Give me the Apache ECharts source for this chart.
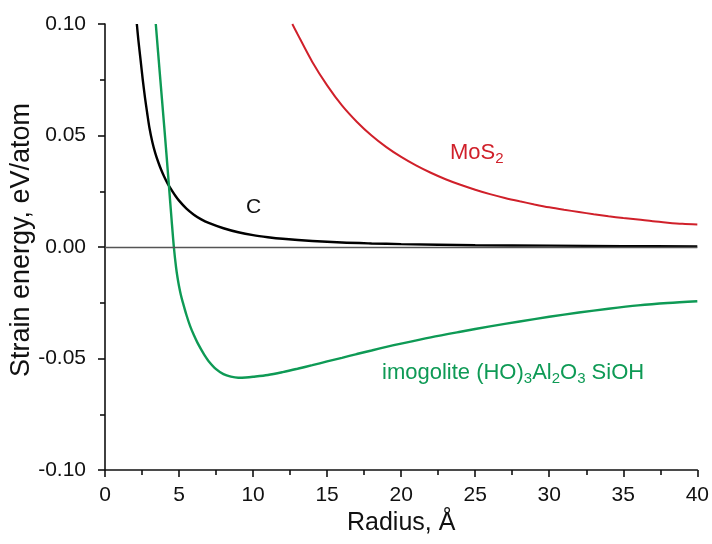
<!DOCTYPE html>
<html>
<head>
<meta charset="utf-8">
<script src="https://cdn.jsdelivr.net/npm/echarts@6/dist/echarts.min.js"></script>
<style>
  html, body { margin: 0; padding: 0; background: #fff; }
  #main { width: 712px; height: 544px; }
</style>
</head>
<body>
<div id="main"></div>
<script>
// radius (Å) and strain energy (eV/atom)
var rC = [2.15, 2.25, 2.4, 2.55, 2.7, 2.85, 3.0, 3.2, 3.4, 3.6, 3.8, 4.0, 4.25, 4.5, 4.75, 5.0, 5.5, 6.0, 6.5, 7, 8, 9, 10, 11, 12, 14, 16, 18, 20, 25, 30, 35, 40];
var eC = [0.100, 0.093, 0.084, 0.075, 0.067, 0.060, 0.0535, 0.047, 0.042, 0.038, 0.0345, 0.0315, 0.0282, 0.0255, 0.0230, 0.0208, 0.0172, 0.0145, 0.0124, 0.0108, 0.0084, 0.0066, 0.0053, 0.0044, 0.0037, 0.0027, 0.0020, 0.0016, 0.0013, 0.0008, 0.0006, 0.0004, 0.0003];

var rMoS2 = [12.65, 13, 14, 15, 16, 17, 18, 19, 20, 21, 22, 23, 24, 25, 26, 27, 28, 29, 30, 31, 32, 33, 34, 35, 36, 37, 38, 39, 40];
var eMoS2 = [0.100, 0.0955, 0.0830, 0.0725, 0.0635, 0.0562, 0.0500, 0.0448, 0.0404, 0.0366, 0.0333, 0.0304, 0.0279, 0.0257, 0.0237, 0.0220, 0.0205, 0.0191, 0.0178, 0.0167, 0.0157, 0.0147, 0.0138, 0.0130, 0.0123, 0.0115, 0.0109, 0.0104, 0.0101];

var rImo = [3.43, 3.7, 4.0, 4.3, 4.5, 4.65, 4.8, 4.9, 5.0, 5.12, 5.25, 5.5, 5.75, 6.0, 6.25, 6.5, 6.75, 7.0, 7.5, 8, 8.5, 9, 9.5, 10, 11, 12, 13, 14, 15, 16, 17, 18, 19, 20, 22, 24, 26, 28, 30, 32, 34, 36, 38, 40];
var eImo = [0.100, 0.078, 0.054, 0.029, 0.012, 0.0, -0.0092, -0.0138, -0.0176, -0.0214, -0.0247, -0.0305, -0.0355, -0.0395, -0.043, -0.046, -0.0488, -0.0512, -0.0548, -0.0570, -0.0581, -0.0586, -0.0585, -0.0582, -0.0574, -0.0561, -0.0546, -0.053, -0.0513, -0.0497, -0.048, -0.0464, -0.0448, -0.0433, -0.0405, -0.038, -0.0356, -0.0334, -0.0313, -0.0294, -0.0277, -0.0262, -0.0251, -0.0243];

function pairs(xs, ys) {
    return xs.map(function (x, i) { return [x, ys[i]]; });
}

var font = 'Liberation Sans, Arial, sans-serif';
var green = '#0e9a55';
var red = '#d0202a';

var myChart = echarts.init(document.getElementById('main'));
var option = {
    animation: false,
    grid: { left: 105, right: 13, top: 24, bottom: 74 },
    xAxis: {
        type: 'value',
        min: 0, max: 40, interval: 5,
        name: 'Radius, Å',
        nameLocation: 'middle',
        nameGap: 40,
        nameTextStyle: { fontFamily: font, fontSize: 25, color: '#111' },
        axisLine: { onZero: false, lineStyle: { color: '#111', width: 1.6 } },
        axisTick: { length: 7, lineStyle: { color: '#111', width: 1.6 } },
        minorTick: { show: true, splitNumber: 2, length: 5, lineStyle: { color: '#111', width: 1.6 } },
        axisLabel: { fontFamily: font, fontSize: 21, color: '#111', margin: 15 },
        splitLine: { show: false }
    },
    yAxis: {
        type: 'value',
        min: -0.1, max: 0.1, interval: 0.05,
        axisLine: { show: true, lineStyle: { color: '#111', width: 1.6 } },
        axisTick: { show: true, length: 7, lineStyle: { color: '#111', width: 1.6 } },
        minorTick: { show: true, splitNumber: 2, length: 5, lineStyle: { color: '#111', width: 1.6 } },
        axisLabel: {
            fontFamily: font, fontSize: 21, color: '#111', margin: 19,
            formatter: function (v) { return v.toFixed(2); }
        },
        splitLine: { show: false }
    },
    series: [
        {
            name: 'C', type: 'line', data: pairs(rC, eC),
            symbol: 'none', smooth: 0.3,
            lineStyle: { color: '#000', width: 2.4 },
            markLine: {
                silent: true, symbol: 'none', label: { show: false },
                lineStyle: { color: '#555', width: 1.3, type: 'solid' },
                data: [{ yAxis: 0 }]
            },
            z: 3
        },
        {
            name: 'MoS2', type: 'line', data: pairs(rMoS2, eMoS2),
            symbol: 'none', smooth: 0.3,
            lineStyle: { color: red, width: 2 }
        },
        {
            name: 'imogolite', type: 'line', data: pairs(rImo, eImo),
            symbol: 'none', smooth: 0.3,
            lineStyle: { color: green, width: 2.4 }
        }
    ],
    graphic: [
        {
            // y-axis title
            type: 'text', x: 22, y: 240, rotation: Math.PI / 2,
            style: {
                text: 'Strain energy, eV/atom', fontFamily: font, fontSize: 27, fill: '#111',
                align: 'center', verticalAlign: 'middle'
            }
        },
        {
            type: 'text', left: 246, top: 197,
            style: { text: 'C', fontFamily: font, fontSize: 21, fill: '#111' }
        },
        {
            type: 'text', left: 450, top: 142,
            style: {
                text: 'MoS{s|2}', fontFamily: font, fontSize: 22, fill: red,
                rich: { s: { fontFamily: font, fontSize: 15, fill: red, padding: [11, 0, 0, 0] } }
            }
        },
        {
            type: 'text', left: 382, top: 362,
            style: {
                text: 'imogolite (HO){s|3}Al{s|2}O{s|3} SiOH', fontFamily: font, fontSize: 22, fill: green,
                rich: { s: { fontFamily: font, fontSize: 15, fill: green, padding: [11, 0, 0, 0] } }
            }
        }
    ]
};
myChart.setOption(option);
</script>
</body>
</html>
